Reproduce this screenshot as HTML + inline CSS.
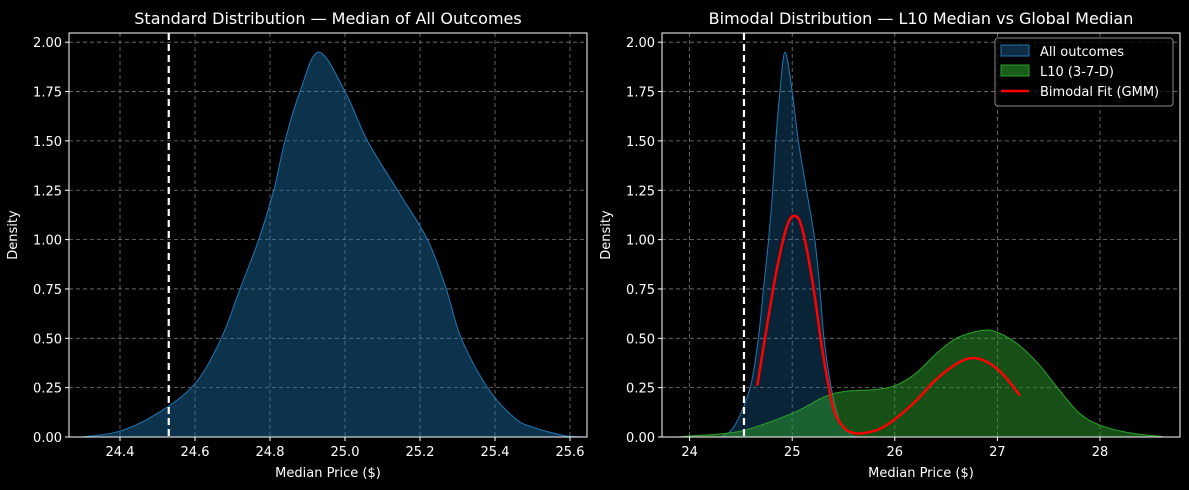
<!DOCTYPE html>
<html><head><meta charset="utf-8"><style>
body{margin:0;background:#000;}
svg{display:block;font-family:"DejaVu Sans","Liberation Sans",sans-serif;}
</style></head><body>
<svg id="c" width="1189" height="490" viewBox="0 0 1189 490"></svg>
<script>
const allX=[24.30,24.40,24.50,24.60,24.67,24.72,24.77,24.81,24.84,24.88,24.93,25.00,25.06,25.14,25.22,25.27,25.31,25.38,25.45,25.50,25.59,25.64];
const allY=[0,0.03,0.12,0.27,0.5,0.75,1.0,1.25,1.5,1.75,1.95,1.75,1.5,1.25,1.0,0.75,0.5,0.25,0.1,0.05,0.005,0];
const l10X=[23.9,24.0,24.5,25.0,25.3,25.5,25.8,26.0,26.2,26.4,26.6,26.85,27.0,27.2,27.4,27.6,27.8,28.0,28.3,28.6];
const l10Y=[0,0.005,0.03,0.12,0.2,0.23,0.24,0.26,0.32,0.42,0.5,0.54,0.53,0.47,0.37,0.24,0.12,0.06,0.02,0.003];
const gmmX=[24.66,24.75,24.85,24.95,25.03,25.1,25.2,25.3,25.4,25.5,25.6,25.7,25.85,26.0,26.2,26.4,26.6,26.75,26.9,27.05,27.22];
const gmmY=[0.26,0.55,0.85,1.07,1.12,1.05,0.78,0.42,0.15,0.05,0.02,0.02,0.04,0.09,0.18,0.29,0.37,0.40,0.38,0.32,0.21];
const leftTicks=[24.4,24.6,24.8,25.0,25.2,25.4,25.6];
const rightTicks=[24,25,26,27,28];
const yTicks=[0,0.25,0.5,0.75,1.0,1.25,1.5,1.75,2.0];
const refLine=24.53;

const svg=document.getElementById('c');
const NS='http://www.w3.org/2000/svg';
function mk(tag,attrs,parent,text){const e=document.createElementNS(NS,tag);for(const k in attrs)e.setAttribute(k,attrs[k]);if(text!==undefined)e.textContent=text;(parent||svg).appendChild(e);return e;}
const yS=v=>437-v*197.4;
function pathFrom(xs,ys,xS,close){
  const p=xs.map((x,i)=>[xS(x),yS(ys[i])]);
  let d='M'+p[0][0]+','+p[0][1];
  for(let i=0;i<p.length-1;i++){
    const p0=p[Math.max(0,i-1)],p1=p[i],p2=p[i+1],p3=p[Math.min(p.length-1,i+2)];
    const c1x=p1[0]+(p2[0]-p0[0])/6,c1y=p1[1]+(p2[1]-p0[1])/6;
    const c2x=p2[0]-(p3[0]-p1[0])/6,c2y=p2[1]-(p3[1]-p1[1])/6;
    d+=` C${c1x},${Math.min(437,c1y)} ${c2x},${Math.min(437,c2y)} ${p2[0]},${p2[1]}`;
  }
  if(close)d+=` L${p[p.length-1][0]},437 L${p[0][0]},437 Z`;
  return d;
}
function panel(x0,x1,xS,ticks,name){
  const g=mk('g',{});
  
  
  ticks.forEach(t=>{const l=mk('line',{x1:xS(t),x2:xS(t),y1:33,y2:437,stroke:'#777','stroke-dasharray':'4,3','stroke-width':0.8},g);
    });
  yTicks.forEach(t=>{const l=mk('line',{x1:x0,x2:x1,y1:yS(t),y2:yS(t),stroke:'#777','stroke-dasharray':'4,3','stroke-width':0.8},g);
    });
  return g;
}
function axes(g,x0,x1,xS,ticks,fmt,title,ylabX){
  const f=mk('rect',{x:x0,y:33,width:x1-x0,height:404,fill:'none',stroke:'#fff','stroke-width':1},g);
  
  ticks.forEach(t=>{mk('line',{x1:xS(t),x2:xS(t),y1:437,y2:441,stroke:'#fff'},g);
    const tx=mk('text',{x:xS(t),y:456,fill:'#fff','font-size':13,'text-anchor':'middle'},g,fmt(t));
    });
  yTicks.forEach(t=>{mk('line',{x1:x0-4,x2:x0,y1:yS(t),y2:yS(t),stroke:'#fff'},g);
    const tx=mk('text',{x:x0-7,y:yS(t)+5,fill:'#fff','font-size':13,'text-anchor':'end'},g,t.toFixed(2));
    });
  const xt=mk('text',{x:(x0+x1)/2,y:477,fill:'#fff','font-size':13,'text-anchor':'middle'},g,'Median Price ($)');
  
  const yt=mk('text',{x:ylabX,y:235,fill:'#fff','font-size':13,'text-anchor':'middle',transform:`rotate(-90 ${ylabX} 235)`},g,'Density');
  
  const tt=mk('text',{x:(x0+x1)/2,y:24,fill:'#fff','font-size':16,'text-anchor':'middle'},g,title);
  
}
const xL=v=>120+(v-24.4)*375;
const gL=panel(69,587,xL,leftTicks,'left-panel');
let e=mk('path',{d:pathFrom(allX,allY,xL,true),fill:'#1f77b4','fill-opacity':0.42,stroke:'#1f77b4','stroke-width':1},gL);

e=mk('line',{x1:xL(refLine),x2:xL(refLine),y1:33,y2:437,stroke:'#fff','stroke-width':2.2,'stroke-dasharray':'7,4'},gL);

axes(gL,69,587,xL,leftTicks,t=>t.toFixed(1),'Standard Distribution — Median of All Outcomes',17);
const xR=v=>689.6+(v-24)*102.6;
const gR=panel(662,1180,xR,rightTicks,'right-panel');
e=mk('path',{d:pathFrom(allX,allY,xR,true),fill:'#1f77b4','fill-opacity':0.3,stroke:'#1f77b4','stroke-width':1},gR);

e=mk('path',{d:pathFrom(l10X,l10Y,xR,true),fill:'#2ca02c','fill-opacity':0.5,stroke:'#2ca02c','stroke-width':1},gR);

e=mk('line',{x1:xR(refLine),x2:xR(refLine),y1:33,y2:437,stroke:'#fff','stroke-width':2.2,'stroke-dasharray':'7,4'},gR);

e=mk('path',{d:pathFrom(gmmX,gmmY,xR,false),fill:'none',stroke:'#ff0000','stroke-width':2.5},gR);

axes(gR,662,1180,xR,rightTicks,t=>String(t),'Bimodal Distribution — L10 Median vs Global Median',610);
const lg=mk('g',{});


mk('rect',{x:995,y:38,width:178,height:68,rx:3,fill:'#000','fill-opacity':0.8,stroke:'#888'},lg);
e=mk('rect',{x:1001,y:45,width:28,height:11,fill:'#0f2c45',stroke:'#1f77b4'},lg);

e=mk('rect',{x:1001,y:65,width:28,height:11,fill:'#1a5c1a',stroke:'#2ca02c'},lg);

e=mk('line',{x1:1001,x2:1029,y1:91,y2:91,stroke:'#ff0000','stroke-width':2.5},lg);

[['All outcomes',56],['L10 (3-7-D)',76],['Bimodal Fit (GMM)',96]].forEach(([t,y])=>{
  const tx=mk('text',{x:1040,y:y,fill:'#fff','font-size':13},lg,t);
  
});
</script>
</body></html>
